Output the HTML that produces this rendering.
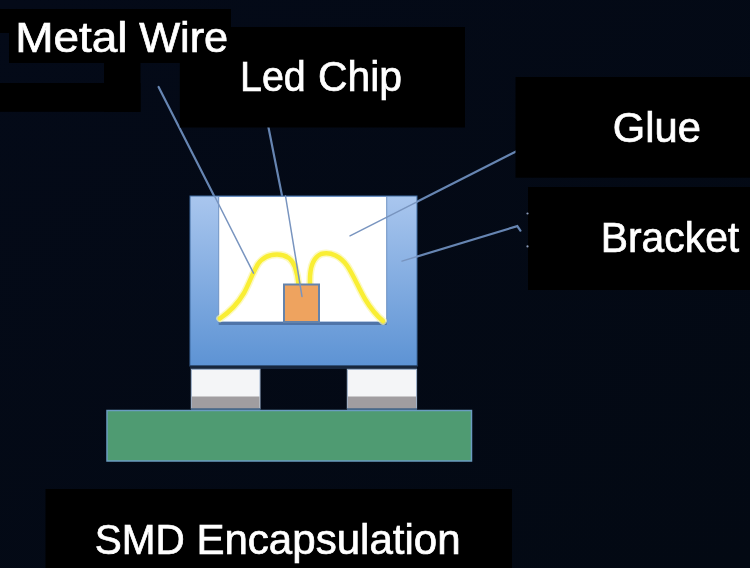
<!DOCTYPE html>
<html>
<head>
<meta charset="utf-8">
<style>
html,body{margin:0;padding:0;width:750px;height:568px;overflow:hidden;background:#040a18;}
svg{display:block;will-change:transform;}
text{font-family:"Liberation Sans", sans-serif;fill:#ffffff;stroke:#ffffff;stroke-width:0.7px;}
</style>
</head>
<body>
<svg width="750" height="568" viewBox="0 0 750 568">
<defs>
<linearGradient id="bg" x1="0" y1="0" x2="1" y2="1">
<stop offset="0" stop-color="#040a18"/>
<stop offset="1" stop-color="#030913"/>
</linearGradient>
<linearGradient id="body" x1="0" y1="0" x2="0" y2="1">
<stop offset="0" stop-color="#a9c6ee"/>
<stop offset="1" stop-color="#5d93d4"/>
</linearGradient>
</defs>
<rect x="0" y="0" width="750" height="568" fill="url(#bg)"/>

<!-- pointer lines (drawn under boxes) -->
<g stroke="#6685b2" stroke-width="2.2" fill="none" stroke-linecap="round">
<line x1="158.6" y1="86.9" x2="253.5" y2="273.2"/>
<line x1="268" y1="125" x2="302" y2="296.5"/>
<line x1="350" y1="235.8" x2="516" y2="151.4"/>
<polyline points="402,261.1 517.3,226.1 520.4,230.7"/>
</g>

<!-- black label boxes -->
<g fill="#000000">
<rect x="0" y="9" width="20" height="24"/>
<rect x="0" y="83" width="140.5" height="28.8"/>
<rect x="104" y="60" width="36.5" height="51.8"/>
<rect x="9" y="9" width="222" height="54"/>
<rect x="179.8" y="27" width="285.2" height="100.5"/>
<rect x="515.5" y="77" width="234.5" height="100.7"/>
<rect x="528" y="187" width="222" height="103"/>
<rect x="45.5" y="489" width="466.5" height="79"/>
</g>


<text x="15.2" y="51.6" font-size="42" textLength="112.4" lengthAdjust="spacingAndGlyphs">Metal</text>
<text x="139.2" y="51.6" font-size="42" textLength="89.0" lengthAdjust="spacingAndGlyphs">Wire</text>
<text x="240.0" y="90.8" font-size="42" textLength="65.8" lengthAdjust="spacingAndGlyphs">Led</text>
<text x="318.0" y="90.8" font-size="42" textLength="84.0" lengthAdjust="spacingAndGlyphs">Chip</text>
<text x="612.8" y="142.4" font-size="42" textLength="88.0" lengthAdjust="spacingAndGlyphs">Glue</text>
<text x="600.8" y="251.6" font-size="42" textLength="138.4" lengthAdjust="spacingAndGlyphs">Bracket</text>
<text x="94.8" y="554" font-size="42" textLength="90.0" lengthAdjust="spacingAndGlyphs">SMD</text>
<text x="196.4" y="554" font-size="42" textLength="264.2" lengthAdjust="spacingAndGlyphs">Encapsulation</text>

<!-- bracket body -->
<rect x="190" y="196" width="227" height="170" fill="url(#body)" stroke="#3f6aa0" stroke-width="1"/>
<rect x="218.7" y="196.5" width="168" height="125.5" fill="#ffffff" stroke="#6f93c4" stroke-width="1"/>

<!-- feet -->
<rect x="190" y="365.5" width="227" height="3.5" fill="#17263c"/>
<rect x="191.3" y="369.3" width="68.7" height="39.2" fill="#f4f5f7" stroke="#9fb3cf" stroke-width="1"/>
<rect x="191.8" y="396.5" width="67.7" height="12" fill="#a09da0"/>
<rect x="347.3" y="369.3" width="69.3" height="39.2" fill="#f4f5f7" stroke="#9fb3cf" stroke-width="1"/>
<rect x="347.8" y="396.5" width="68.3" height="12" fill="#a09da0"/>
<rect x="191" y="408.3" width="69.5" height="2.5" fill="#3d5a7a"/>
<rect x="347" y="408.3" width="70" height="2.5" fill="#3d5a7a"/>

<!-- green base -->
<rect x="107" y="410.5" width="364.5" height="50.5" fill="#4f9b72" stroke="#6a9cc0" stroke-width="1.5"/>

<!-- white-area shadow -->
<line x1="218.7" y1="323.5" x2="386.7" y2="323.5" stroke="#4f74a8" stroke-width="3.2"/>

<!-- yellow wires -->
<g fill="none" stroke="#fbf6a8" stroke-opacity="0.7" stroke-width="7.5" stroke-linecap="round" stroke-linejoin="round">
<path d="M220,318.5 C228,313 237,305 244,293 C249,284 252,274 258,264 C263,257 270,254.5 277,254.5 C286,254.5 292,259 295,267 C297,273 298,279 298.5,284"/>
<path d="M310,284 C309.5,270 312,258 321,254 C331,251 341,257 347,265.5 C353,274 359,289 365,299 C371,309 377,316 383,321"/>
</g>
<g fill="none" stroke="#f9ee34" stroke-width="4.5" stroke-linecap="round" stroke-linejoin="round">
<path d="M220,318.5 C228,313 237,305 244,293 C249,284 252,274 258,264 C263,257 270,254.5 277,254.5 C286,254.5 292,259 295,267 C297,273 298,279 298.5,284"/>
<path d="M310,284 C309.5,270 312,258 321,254 C331,251 341,257 347,265.5 C353,274 359,289 365,299 C371,309 377,316 383,321"/>
</g>
<!-- chip -->
<rect x="284" y="284.5" width="35" height="37.5" fill="#eea35f" stroke="#6483ab" stroke-width="2"/>
<circle cx="527.5" cy="213.5" r="1.1" fill="#8a9ab8"/>
<circle cx="527.5" cy="246.4" r="1.1" fill="#8a9ab8"/>
<!-- pointer segments over the diagram -->
<g stroke="#7894bf" stroke-width="1.5" fill="none" stroke-linecap="round">
<line x1="215" y1="197" x2="253.5" y2="273.2"/>
<line x1="285.5" y1="196" x2="302" y2="296.5"/>
<line x1="350" y1="235.8" x2="418" y2="201.3"/>
<line x1="402" y1="261.1" x2="418" y2="256.2"/>
</g>
</svg>
</body>
</html>
